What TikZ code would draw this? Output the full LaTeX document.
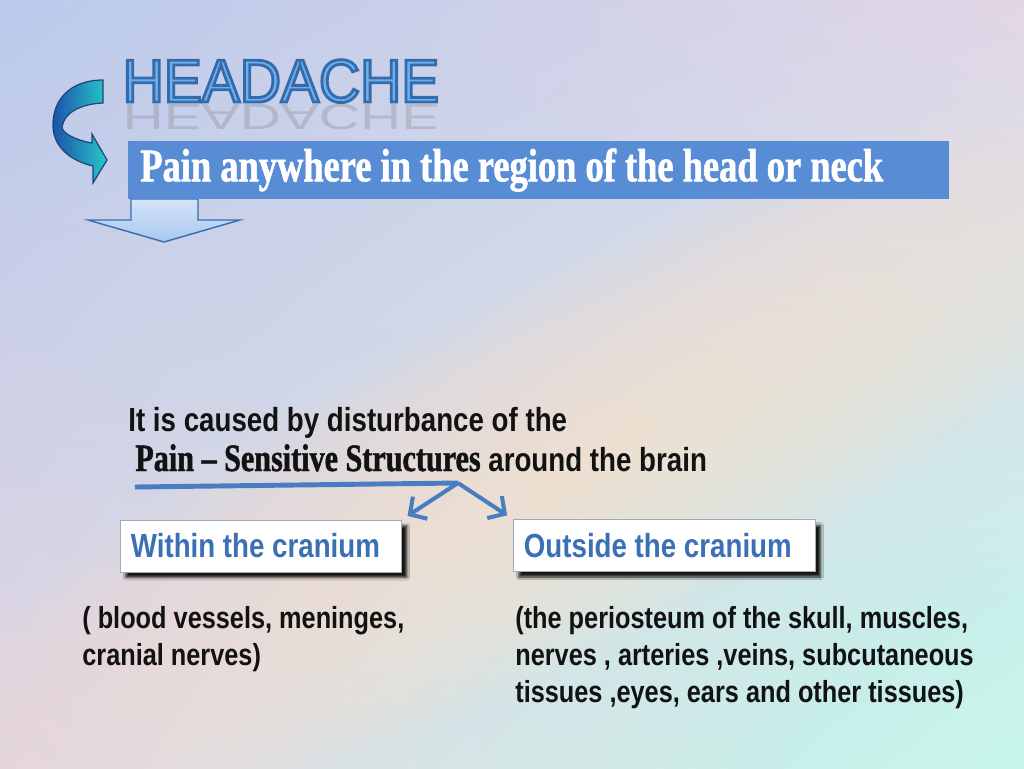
\documentclass[tikz,border=0pt]{standalone}
\usepackage{fontspec}
\setmainfont{Liberation Sans}
\newfontfamily\narrowsans[FakeStretch=0.83]{Liberation Sans}
\newfontfamily\condserif[FakeStretch=0.78, FakeBold=1.2]{Liberation Serif Bold}
\newfontfamily\titlefont[FakeStretch=0.94]{Liberation Sans}
\usetikzlibrary{arrows.meta, shadows.blur, shadings}
\definecolor{bgtl}{RGB}{186, 202, 236}
\definecolor{bgtr}{RGB}{226, 214, 230}
\definecolor{bgbl}{RGB}{226, 214, 224}
\definecolor{bgbr}{RGB}{198, 246, 236}
\definecolor{bgpeach}{RGB}{252, 228, 210}
\definecolor{bgmint}{RGB}{200, 248, 234}
\definecolor{headerblue}{RGB}{88, 140, 212}
\definecolor{boxblue}{RGB}{59, 112, 181}
\definecolor{lineblue}{RGB}{74, 124, 194}
\definecolor{boxedge}{RGB}{160, 170, 185}
\definecolor{titlefill}{RGB}{112, 176, 234}
\definecolor{arrteal}{RGB}{40, 200, 200}
\definecolor{arrdark}{RGB}{28, 80, 170}
\definecolor{arredge}{RGB}{30, 70, 120}
\definecolor{arrowlight}{RGB}{212, 228, 248}
\definecolor{arrowmid}{RGB}{168, 200, 238}
\definecolor{arrowedge}{RGB}{58, 108, 176}
% outlined letters: fill in text colour, stroke dark blue
\newcommand{\outlined}[1]{%
  \special{pdf:literal direct 0.2 0.42 0.68 RG 1.6 w 2 Tr}#1%
  \special{pdf:literal direct 0 Tr}}
\tikzset{
  titletext/.style={font=\titlefont\fontsize{34.5}{36}\selectfont, anchor=base, inner sep=0},
  headerbox/.style={anchor=west, fill=headerblue, text=white, minimum height=32.9pt,
    text width=453.5pt, inner xsep=6.8pt, align=flush left,
    font=\condserif\fontsize{26.6}{28}\selectfont},
  causetext/.style={font=\narrowsans\bfseries\fontsize{19}{21}\selectfont, inner sep=0,
    text=black!93},
  cranbox/.style={anchor=west, draw=boxedge, fill=white, minimum height=29.5pt,
    inner xsep=6pt, align=flush left, text=boxblue,
    font=\narrowsans\bfseries\fontsize{19}{21}\selectfont,
    blur shadow={shadow xshift=3.2pt, shadow yshift=-3.2pt, shadow opacity=90,
      shadow blur steps=4, shadow blur radius=1.5pt}},
  listtext/.style={font=\narrowsans\bfseries\fontsize{17.35}{21}\selectfont,
    align=left, inner sep=0, text=black!93},
  forkline/.style={draw=lineblue, line width=2.8pt},
  forkarrow/.style={draw=lineblue, line width=2.3pt,
    -{Straight Barb[length=7pt, width=15pt]}, shorten >=4pt}
}
\begin{document}
\begin{tikzpicture}[x=0.02cm, y=-0.02cm]
  \useasboundingbox (0,0) rectangle (1024,768);

  % Background
  \shade[upper left=bgtl, upper right=bgtr, lower left=bgbl, lower right=bgbr]
    (0,0) rectangle (1024,768);
  \foreach \k in {20,19,...,1}
    \fill[bgpeach, opacity=0.07, rotate around={27:(560,470)}]
      (560,470) ellipse [x radius=36*\k, y radius=9*\k];
  \foreach \k in {12,11,...,1}
    \fill[bgmint, opacity=0.06] (1024,768) ellipse [x radius=30*\k, y radius=20*\k];

  % Curved arrow
  \shadedraw[left color=arrdark, right color=arrteal, draw=arredge, line width=0.7pt]
    (103,80) .. controls (70,80) and (52,100) .. (53,127)
    .. controls (54,150) and (75,162) .. (93,166)
    -- (93,183) -- (107,160) -- (92,134) -- (92,143)
    .. controls (75,140) and (62,133) .. (62,127)
    .. controls (64,113) and (80,104) .. (103,103) -- cycle;

  % Title
  \node[titletext, text=gray, opacity=0.3, yscale=-0.6] at (281,104) {HEADACHE};
  \node[titletext, text=titlefill] (title) at (281,102) {\outlined{HEADACHE}};

  % Down arrow
  \shadedraw[top color=arrowlight, bottom color=arrowmid, draw=arrowedge, line width=0.8pt]
    (131,199) -- (131,220) -- (88,220) -- (164,242) -- (240,220) -- (198,220)
    -- (198,199) -- cycle;

  % Definition
  \node[headerbox] (header) at (128,170) {Pain anywhere in the region of the head or neck};

  % Cause
  \node[causetext, anchor=base west] (cause) at (128,431) {It is caused by disturbance of the};
  \node[causetext, anchor=base west] (structures) at (135,471)
    {{\condserif\fontsize{22}{24}\selectfont Pain – Sensitive Structures} around the brain};

  \coordinate (linestart) at (135,487);
  \coordinate (fork) at (458,483);

  % Boxes
  \node[cranbox, text width=147.9pt] (within) at (120,546) {Within the cranium};
  \node[cranbox, text width=159.8pt] (outside) at (513,545.5) {Outside the cranium};

  \draw[forkline] (linestart) -- (fork);
  \draw[forkarrow] (fork) -- (within.north east);
  \draw[forkarrow] (fork) -- (outside.north west);

  % Lists
  \node[listtext, anchor=north west] (withinlist) at (82,606)
    {( blood vessels, meninges,\\cranial nerves)};
  \node[listtext, anchor=north west] (outsidelist) at (515,606)
    {(the periosteum of the skull, muscles,\\nerves , arteries ,veins, subcutaneous\\tissues ,eyes, ears and other tissues)};

\end{tikzpicture}
\end{document}
